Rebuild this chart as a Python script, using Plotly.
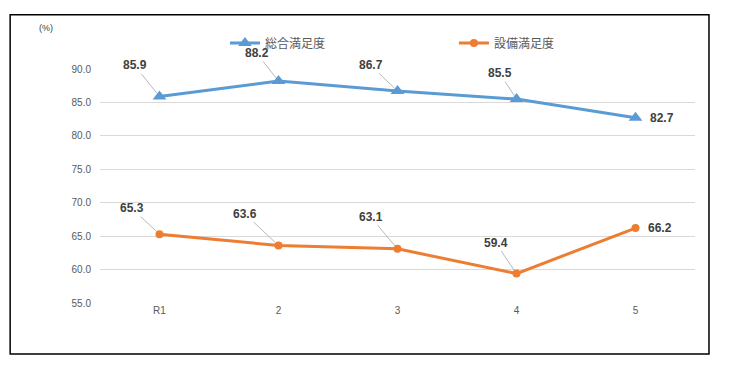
import plotly.graph_objects as go

categories = ["R1", "2", "3", "4", "5"]
sogo = [85.9, 88.2, 86.7, 85.5, 82.7]
setsubi = [65.3, 63.6, 63.1, 59.4, 66.2]
y_ticks = [55.0, 60.0, 65.0, 70.0, 75.0, 80.0, 85.0, 90.0]

# label offsets (px) relative to each point
sogo_off = [(-25, -31), (-22, -28), (-27, -26), (-17, -26), (26, 0)]
setsubi_off = [(-28, -26), (-34, -32), (-27, -32), (-21, -31), (24, 0)]

BLUE = "#5B9BD5"
ORANGE = "#ED7D31"
FONT = "Noto Sans CJK JP, Liberation Sans, sans-serif"
NUMFONT = "Liberation Sans, Arial, sans-serif"

fig = go.Figure()
fig.add_trace(go.Scatter(
    x=categories, y=sogo, name="総合満足度", mode="lines+markers",
    line=dict(color=BLUE, width=3),
    marker=dict(symbol="triangle-up", size=12, color=BLUE),
))
fig.add_trace(go.Scatter(
    x=categories, y=setsubi, name="設備満足度", mode="lines+markers",
    line=dict(color=ORANGE, width=3),
    marker=dict(symbol="circle", size=8, color=ORANGE),
))

annotations = []
for vals, offs in ((sogo, sogo_off), (setsubi, setsubi_off)):
    for i, v in enumerate(vals):
        ax, ay = offs[i]
        arrow = ay != 0
        annotations.append(dict(
            x=i, y=v, xref="x", yref="y",
            text=f"<b>{v:.1f}</b>",
            showarrow=arrow, ax=ax if arrow else 0, ay=ay, arrowhead=0,
            arrowwidth=0.8, arrowcolor="#A6A6A6", standoff=4,
            xshift=0 if arrow else ax,
            font=dict(family=NUMFONT, size=12, color="#404040"),
        ))

annotations.append(dict(
    x=-0.09, y=1.175, xref="paper", yref="paper", text="(%)", showarrow=False,
    xanchor="center", yanchor="middle",
    font=dict(family=NUMFONT, size=9, color="#404040"),
))

fig.update_layout(
    width=726, height=363,
    margin=dict(l=92, r=39, t=61, b=68),
    paper_bgcolor="white", plot_bgcolor="white",
    showlegend=True,
    legend=dict(
        orientation="h", x=0.21, y=1.111, xanchor="left", yanchor="middle",
        entrywidth=184, entrywidthmode="pixels",
        font=dict(family=FONT, size=12, color="#595959"),
        bgcolor="rgba(0,0,0,0)",
    ),
    hovermode=False,
    annotations=annotations,
    shapes=[dict(
        type="rect", xref="paper", yref="paper",
        x0=-0.151, x1=1.0235, y0=-0.218, y1=1.232,
        line=dict(color="black", width=1.5), fillcolor="rgba(0,0,0,0)",
        layer="below",
    )],
)
fig.update_xaxes(
    type="category", range=[-0.5, 4.5], showgrid=False, zeroline=False,
    showline=False, ticks="",
    tickfont=dict(family=NUMFONT, size=10, color="#595959"),
)
fig.update_yaxes(
    range=[55, 90], tickvals=y_ticks, ticktext=[f"{t:.1f}" for t in y_ticks],
    showgrid=True, gridcolor="#D9D9D9", gridwidth=1, zeroline=False,
    showline=False, ticks="", ticklabelstandoff=8,
    tickfont=dict(family=NUMFONT, size=10, color="#595959"),
)

fig.write_html("out.html")
